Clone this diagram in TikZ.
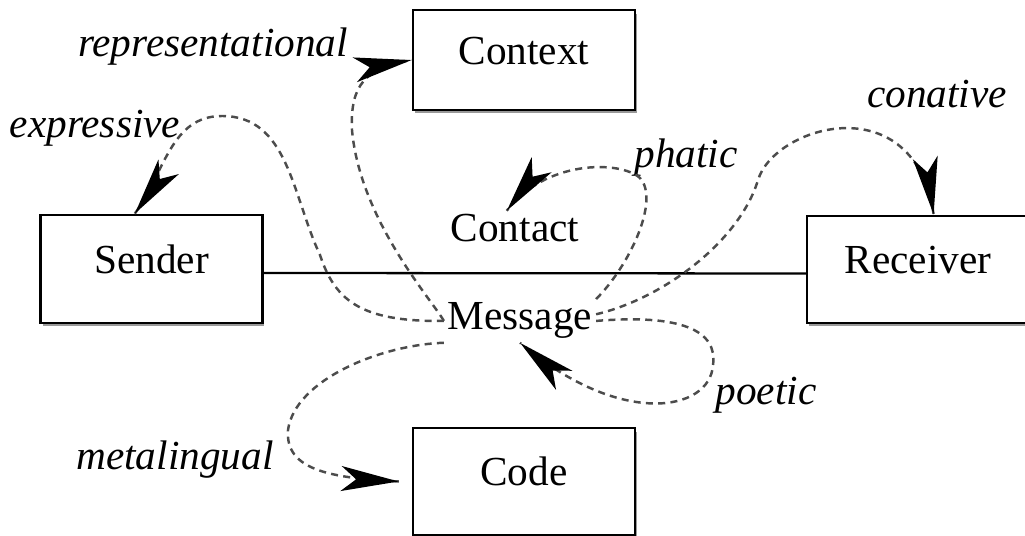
\documentclass[tikz,border=0pt]{standalone}
\usepackage{fontspec}
\setmainfont{Liberation Serif}
\usetikzlibrary{decorations.markings}
\usetikzlibrary{arrows.meta}
\usetikzlibrary{shadows}

\begin{document}
\begin{tikzpicture}[x=0.02cm, y=-0.02cm,
  every node/.style={font=\fontsize{23.5}{28}\selectfont, inner sep=2pt},
  party/.style={draw, line width=1.3pt, fill=white, minimum width=4.44cm, minimum height=2.14cm,
    text height=0.53cm, text depth=0.36cm,
    drop shadow={shadow xshift=0.04cm, shadow yshift=-0.07cm, fill=black!40, opacity=1}},
  word/.style={anchor=base},
  func/.style={font=\fontsize{23.5}{28}\selectfont\itshape, anchor=base, inner sep=1pt},
  funcline/.style={draw=black!70, line width=1.4pt, dash pattern=on 4pt off 3pt,
    decoration={markings,mark=at position 0.999 with {\arrow{Stealth[length=1.15cm,width=0.5cm,inset=0.3cm,color=black]}}},
    postaction={decorate}}]
\useasboundingbox (0,0) rectangle (1025,536);

% the six factors
\node[party, minimum height=2cm] (context) at (524,60) {Context};
\node[party, minimum height=2.16cm] (sender) at (151.5,269) {Sender};
\node[party] (receiver) at (918,269.5) {Receiver};
\node[party] (code) at (524,481.5) {Code};
\node[word] (contact) at (515,242) {Contact};
\node[word] (message) at (520,330) {Message};
\draw[line width=1.3pt] ([yshift=-0.08cm]sender.east) -- ([yshift=-0.08cm]receiver.west);

% the six functions
\node[func] (representational) at (213,57) {representational};
\node[func] (expressive) at (95,138) {expressive};
\node[func] (phatic) at (686,168) {phatic};
\node[func] (conative) at (937,108) {conative};
\node[func] (poetic) at (766,405) {poetic};
\node[func] (metalingual) at (175,470) {metalingual};

\draw[funcline] (message.west) .. controls (360,322) and (335,300) .. (320,255) to[out=115,in=0] (222,116) to[out=180,in=54] (sender.107);
\draw[funcline] (message.west) .. controls (432,300) and (360,220) .. (352,130) .. controls (350,85) and (365,68) .. (context.west);
\draw[funcline] (message.south west) .. controls (380,345) and (295,380) .. (288,430) .. controls (285,470) and (330,478) .. ([xshift=-0.26cm]code.west);
\draw[funcline] (message.north east) .. controls (630,265) and (660,200) .. (640,178) .. controls (620,160) and (545,160) .. (contact.115);
\draw[funcline] (message.5) .. controls (665,298) and (740,240) .. (758,180) .. controls (775,125) and (915,85) .. (receiver.74);
\draw[funcline] (message.east) .. controls (680,314) and (718,330) .. (713,365) .. controls (710,412) and (620,428) .. (message.south);
\end{tikzpicture}
\end{document}
